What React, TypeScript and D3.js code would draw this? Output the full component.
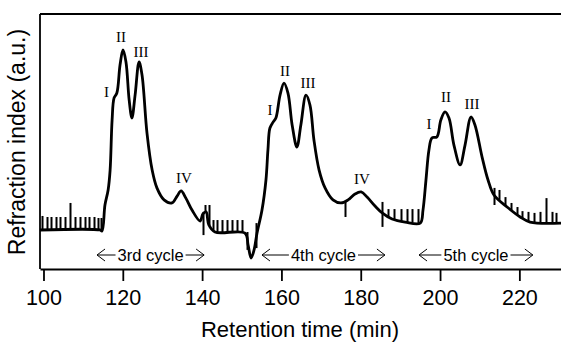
import React, { useRef, useEffect } from 'react'
import * as d3 from 'd3'

// refractive index trace
const retentionTime = [
  99.1, 114.25, 114.75, 115.5, 116.3, 116.8, 117.3, 117.8, 118.5, 119.3, 120.05, 120.8,
  121.6, 122.3, 123.1, 124.1, 124.85, 126.1, 127.4, 128.6, 130.4, 132.4, 133.7, 134.7,
  135.9, 137.45, 139.5, 140.2, 141.0, 141.7, 143.25, 150.8, 151.6, 152.35, 153.1, 153.85,
  155.1, 156.1, 156.6, 157.1, 157.9, 158.6, 159.65, 160.65, 161.65, 162.7, 163.9, 164.9,
  166.2, 167.2, 168.2, 169.5, 171.0, 173.0, 175.0, 176.8, 178.55, 180.1, 181.6, 183.6,
  185.4, 187.9, 191.2, 195.0, 195.7, 196.45, 197.2, 197.95, 199.2, 200.2, 201.25, 202.25,
  203.5, 205.05, 206.3, 207.8, 208.8, 210.6, 212.1, 213.6, 216.9, 220.2, 222.7, 230.5
]
const refractionIndex = [
  0.153, 0.153, 0.149, 0.251, 0.31, 0.388, 0.584, 0.671, 0.69, 0.8, 0.859, 0.812,
  0.663, 0.592, 0.682, 0.812, 0.761, 0.533, 0.388, 0.318, 0.271, 0.259, 0.286, 0.306,
  0.278, 0.231, 0.188, 0.216, 0.224, 0.173, 0.145, 0.141, 0.094, 0.043, 0.075, 0.141,
  0.231, 0.349, 0.467, 0.553, 0.576, 0.592, 0.682, 0.729, 0.69, 0.565, 0.478, 0.565,
  0.682, 0.643, 0.506, 0.388, 0.318, 0.271, 0.259, 0.271, 0.294, 0.302, 0.282, 0.247,
  0.22, 0.196, 0.184, 0.18, 0.231, 0.349, 0.467, 0.514, 0.518, 0.584, 0.616, 0.592,
  0.486, 0.408, 0.486, 0.596, 0.565, 0.439, 0.349, 0.29, 0.243, 0.204, 0.184, 0.18
]

// fraction collector marks (bottom null = starts on the trace)
const fractionTime = [
  99.7, 100.8, 101.9, 103.1, 104.2, 105.4, 106.7, 107.9, 109.2, 110.5, 111.6, 112.8, 113.8, 114.5,
  140.3, 140.8, 141.8, 142.8, 143.8, 145.0, 146.3, 147.5, 148.8, 150.05, 151.3, 153.6,
  176.0, 185.35, 186.9, 188.4, 190.2, 191.7, 192.9, 194.4,
  213.7, 214.9, 216.4, 217.9, 219.4, 220.7, 222.2, 223.7, 225.2, 226.75, 228.25, 229.25
]
const fractionTop = [
  0.208, 0.204, 0.204, 0.204, 0.204, 0.204, 0.259, 0.204, 0.204, 0.204, 0.204, 0.204, 0.2, 0.2,
  0.224, 0.251, 0.251, 0.192, 0.192, 0.192, 0.192, 0.192, 0.192, 0.192, 0.145, 0.18,
  0.263, 0.263, 0.235, 0.235, 0.235, 0.235, 0.235, 0.235,
  0.318, 0.31, 0.282, 0.259, 0.243, 0.227, 0.224, 0.22, 0.224, 0.278, 0.224, 0.22
]
const fractionBottom = [
  null, null, null, null, null, null, null, null, null, null, null, null, null, null,
  0.133, null, null, null, null, null, null, null, null, null, 0.075, 0.082,
  0.204, 0.165, null, null, null, null, null, null,
  0.251, null, null, null, null, null, null, null, null, null, null, null
]

const xTicks = [100, 120, 140, 160, 180, 200, 220]

const cycleNames = ['3rd cycle', '4th cycle', '5th cycle']
const cycleStart = [113.5, 155.1, 194.7]
const cycleEnd = [140.5, 186.1, 223.4]

const peakNames = ['I', 'II', 'III', 'IV', 'I', 'II', 'III', 'IV', 'I', 'II', 'III']
const peakTime = [115.9, 119.55, 124.6, 135.4, 157.1, 160.9, 166.7, 180.3, 197.2, 201.5, 208.05]
const peakLevel = [0.675, 0.89, 0.831, 0.337, 0.604, 0.757, 0.71, 0.333, 0.549, 0.655, 0.627]

const sans = '"Liberation Sans", Arial, sans-serif'
const serif = '"Liberation Serif", "Times New Roman", serif'

export default function App() {
  const ref = useRef<SVGSVGElement>(null)

  useEffect(() => {
    const svg = d3.select(ref.current)
    svg.selectAll('*').remove()

    const left = 40
    const right = 561
    const top = 14
    const bottom = 269

    const x = d3.scaleLinear().domain([99.12, 230.5]).range([left, right])
    const y = d3.scaleLinear().domain([0, 1]).range([bottom, top])
    // piecewise linear lookup of the trace, for marks that sit on it
    const trace = d3.scaleLinear().domain(retentionTime).range(refractionIndex)

    // frame: left, top
    svg.append('line')
      .attr('x1', left).attr('x2', left).attr('y1', top).attr('y2', bottom)
      .attr('stroke', '#000').attr('stroke-width', 1.8)
    svg.append('line')
      .attr('x1', left).attr('x2', right).attr('y1', top).attr('y2', top)
      .attr('stroke', '#000').attr('stroke-width', 1.8)

    const xAxis = svg.append('g')
      .attr('transform', `translate(0, ${bottom})`)
      .call(d3.axisBottom(x).tickValues(xTicks).tickSize(12).tickSizeOuter(0).tickFormat(d3.format('d')))
    xAxis.select('.domain').attr('stroke-width', 1.8)
    xAxis.selectAll('.tick line').attr('stroke-width', 1.8)
    xAxis.selectAll('.tick text')
      .attr('y', 21)
      .attr('font-size', 21.5)
      .attr('font-family', sans)
      .attr('fill', '#000')

    svg.append('text')
      .attr('x', 300).attr('y', 337)
      .attr('text-anchor', 'middle')
      .attr('font-size', 22)
      .attr('font-family', sans)
      .text('Retention time (min)')

    svg.append('text')
      .attr('transform', 'translate(25, 142) rotate(-90)')
      .attr('text-anchor', 'middle')
      .attr('font-size', 23)
      .attr('font-family', sans)
      .text('Refraction index (a.u.)')

    const data = retentionTime.map((t, i) => ({ t, v: refractionIndex[i] }))
    const line = d3.line<{ t: number; v: number }>()
      .curve(d3.curveCatmullRom.alpha(0.5))
      .x(d => x(d.t))
      .y(d => y(d.v))

    svg.append('path')
      .datum(data)
      .attr('d', line)
      .attr('fill', 'none')
      .attr('stroke', '#000')
      .attr('stroke-width', 2.8)
      .attr('stroke-linejoin', 'round')

    svg.append('g')
      .selectAll('line')
      .data(fractionTime)
      .join('line')
      .attr('x1', d => Math.round(x(d)) + 0.5)
      .attr('x2', d => Math.round(x(d)) + 0.5)
      .attr('y1', (d, i) => y(fractionTop[i]))
      .attr('y2', (d, i) => y(fractionBottom[i] ?? trace(d)))
      .attr('stroke', '#000')
      .attr('stroke-width', 2)

    svg.append('g')
      .selectAll('text')
      .data(peakNames)
      .join('text')
      .attr('x', (d, i) => x(peakTime[i]))
      .attr('y', (d, i) => y(peakLevel[i]))
      .attr('text-anchor', 'middle')
      .attr('font-size', 15)
      .attr('font-family', serif)
      .text(d => d)

    // cycle labels with arrows on both sides
    const labelY = 261
    const arrowY = 255
    cycleNames.forEach((name, i) => {
      const x0 = x(cycleStart[i])
      const x1 = x(cycleEnd[i])
      const mid = (x0 + x1) / 2
      const label = svg.append('text')
        .attr('x', mid).attr('y', labelY)
        .attr('text-anchor', 'middle')
        .attr('font-size', 16.5)
        .attr('font-family', sans)
        .text(name)
      const w = (label.node() as SVGTextElement).getComputedTextLength()
      const gap = 2
      const a = mid - w / 2 - gap
      const b = mid + w / 2 + gap
      svg.append('path')
        .attr('d', `M${a},${arrowY}H${x0} M${x0 + 8},${arrowY - 6}L${x0},${arrowY}L${x0 + 8},${arrowY + 6}`)
        .attr('fill', 'none').attr('stroke', '#000').attr('stroke-width', 1)
      svg.append('path')
        .attr('d', `M${b},${arrowY}H${x1} M${x1 - 8},${arrowY - 6}L${x1},${arrowY}L${x1 - 8},${arrowY + 6}`)
        .attr('fill', 'none').attr('stroke', '#000').attr('stroke-width', 1)
    })
  }, [])

  return (
    <svg
      ref={ref}
      width={561}
      height={343}
      style={{ position: 'absolute', left: 0, top: 0, background: '#fff' }}
    />
  )
}
